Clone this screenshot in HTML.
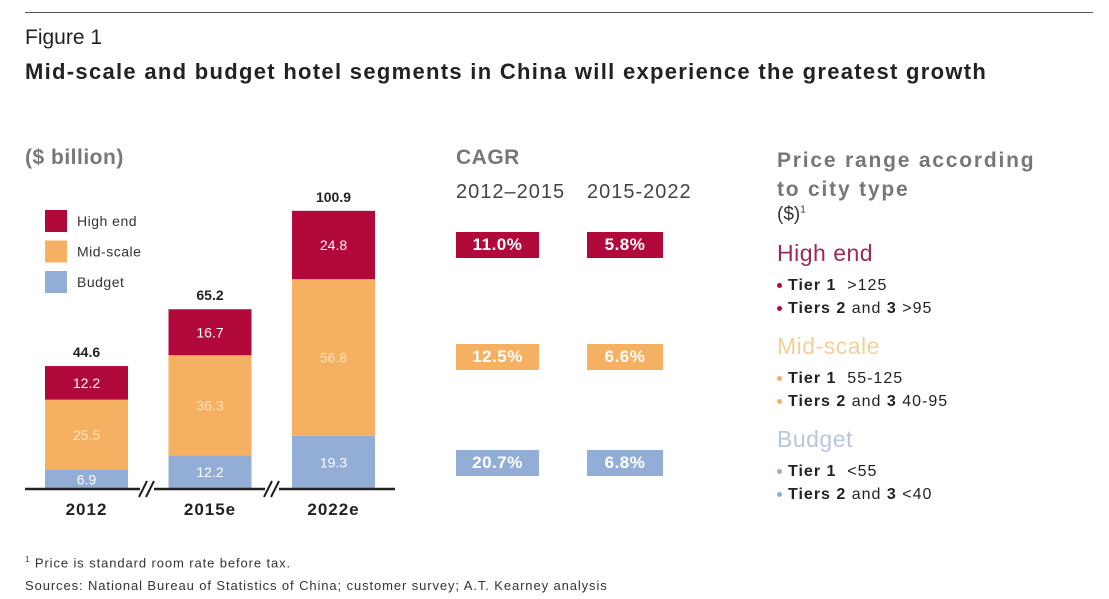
<!DOCTYPE html>
<html><head><meta charset="utf-8">
<style>
body{margin:0;width:1109px;height:599px;background:#fff;font-family:"Liberation Sans",sans-serif;position:relative;overflow:hidden;color:#222}
.a{position:absolute;white-space:nowrap}
.box{position:absolute;color:#fff;font-weight:bold;font-size:17px;text-align:center;line-height:26px;letter-spacing:0.5px}
.li{position:absolute;font-size:16px;color:#222;letter-spacing:1px}
.li b{font-weight:bold}
.dot{display:inline-block;width:5px;height:5px;border-radius:50%;margin-right:6px;vertical-align:middle}
</style></head><body>
<div class="a" style="left:25px;top:12px;width:1068px;height:1px;background:#555"></div>
<div class="a" style="left:25px;top:26px;font-size:21px;color:#222">Figure 1</div>
<div class="a" style="left:25px;top:59px;font-size:22px;letter-spacing:1.3px;font-weight:bold;color:#222">Mid-scale and budget hotel segments in China will experience the greatest growth</div>
<div class="a" style="left:25px;top:146px;font-size:21px;font-weight:bold;color:#777;letter-spacing:0.5px">($ billion)</div>

<svg id="chart" class="a" style="left:0;top:0" width="420" height="530"></svg>

<div class="a" style="left:456px;top:146px;font-size:21px;font-weight:bold;color:#777;letter-spacing:0.5px">CAGR</div>
<div class="a" style="left:456px;top:181px;font-size:20px;color:#444;letter-spacing:1px">2012–2015</div>
<div class="a" style="left:587px;top:181px;font-size:20px;color:#444;letter-spacing:1px">2015-2022</div>
<div class="box" style="left:456px;top:232px;width:83px;background:#b10a3a">11.0%</div>
<div class="box" style="left:587px;top:232px;width:76px;background:#b10a3a">5.8%</div>
<div class="box" style="left:456px;top:344px;width:83px;background:#f6b062">12.5%</div>
<div class="box" style="left:587px;top:344px;width:76px;background:#f6b062">6.6%</div>
<div class="box" style="left:456px;top:450px;width:83px;background:#93aed6">20.7%</div>
<div class="box" style="left:587px;top:450px;width:76px;background:#93aed6">6.8%</div>

<div class="a" style="left:777px;top:146px;font-size:21px;font-weight:bold;color:#777;line-height:29px;letter-spacing:1.8px">Price range according<br>to city type</div>
<div class="a" style="left:777px;top:204px;font-size:19px;color:#333">($)<sup style="font-size:10px">1</sup></div>
<div class="a" style="left:777px;top:240px;font-size:23px;color:#9b2a5a;letter-spacing:0.5px">High end</div>
<div class="li" style="left:777px;top:277px"><span class="dot" style="background:#b10a3a"></span><b>Tier 1</b> &nbsp;&gt;125</div>
<div class="li" style="left:777px;top:300px"><span class="dot" style="background:#b10a3a"></span><b>Tiers 2</b> and <b>3</b> &gt;95</div>
<div class="a" style="left:777px;top:333px;font-size:23px;color:#f3cf9a;letter-spacing:0.5px">Mid-scale</div>
<div class="li" style="left:777px;top:370px"><span class="dot" style="background:#f6b062"></span><b>Tier 1</b> &nbsp;55-125</div>
<div class="li" style="left:777px;top:393px"><span class="dot" style="background:#f6b062"></span><b>Tiers 2</b> and <b>3</b> 40-95</div>
<div class="a" style="left:777px;top:426px;font-size:23px;color:#b8c6db;letter-spacing:0.5px">Budget</div>
<div class="li" style="left:777px;top:463px"><span class="dot" style="background:#93aed6"></span><b>Tier 1</b> &nbsp;&lt;55</div>
<div class="li" style="left:777px;top:486px"><span class="dot" style="background:#93aed6"></span><b>Tiers 2</b> and <b>3</b> &lt;40</div>

<div class="a" style="left:25px;top:555px;font-size:13px;color:#333;letter-spacing:0.9px"><sup style="font-size:8px">1</sup> Price is standard room rate before tax.</div>
<div class="a" style="left:25px;top:578px;font-size:13px;color:#333;letter-spacing:0.9px">Sources: National Bureau of Statistics of China; customer survey; A.T. Kearney analysis</div>

<script>
const categories=["2012","2015e","2022e"];
const budget=[6.9,12.2,19.3];
const midscale=[25.5,36.3,56.8];
const highend=[12.2,16.7,24.8];
const totals=["44.6","65.2","100.9"];
const seriesNames=["Budget","Mid-scale","High end"];
const colors=["#93aed6","#f6b062","#b10a3a"];
const textColors=["#fff","#fde3c2","#fff"];
const svg=document.getElementById('chart');
const NS="http://www.w3.org/2000/svg";
const base=489, k=2.757, barW=83;
function y(v){return base-v*k;}
function x(i){return 45+i*123.5;}
function mk(t,a){const e=document.createElementNS(NS,t);for(const n in a)e.setAttribute(n,a[n]);svg.appendChild(e);return e;}
const series=[budget,midscale,highend];
categories.forEach((c,i)=>{
  let acc=0;
  series.forEach((s,j)=>{
    const r=mk('rect',{x:x(i),y:y(acc+s[i]),width:barW,height:s[i]*k,fill:colors[j]});
    
    
    const t=mk('text',{x:x(i)+barW/2,y:y(acc+s[i]/2)+5,'text-anchor':'middle','font-size':14,fill:textColors[j],'font-family':'Liberation Sans'});
    t.textContent=s[i];
    
    
    acc+=s[i];
  });
  const tt=mk('text',{x:x(i)+barW/2,y:y(acc)-9,'text-anchor':'middle','font-size':14,'font-weight':'bold',fill:'#222','font-family':'Liberation Sans'});
  tt.textContent=totals[i];
  
  
  const xl=mk('text',{x:x(i)+barW/2,y:515,'text-anchor':'middle','font-size':17,'font-weight':'bold',fill:'#222','font-family':'Liberation Sans','letter-spacing':1});
  xl.textContent=c;
  
  
});
const ax=mk('line',{x1:25,y1:base,x2:395,y2:base,stroke:'#222','stroke-width':2.5});


[146,271].forEach(sx=>{
  mk('rect',{x:sx-6,y:base-3,width:14,height:6,fill:'#fff'});
  [-3,4].forEach(d=>{const l=mk('line',{x1:sx+d-4,y1:base+8,x2:sx+d+4,y2:base-8,stroke:'#222','stroke-width':2});
  
  });
});
const legend=[["High end","#b10a3a"],["Mid-scale","#f6b062"],["Budget","#93aed6"]];
legend.forEach((l,i)=>{
  const r=mk('rect',{x:45,y:210+i*30.5,width:22,height:22,fill:l[1]});
  
  
  const t=mk('text',{x:77,y:226+i*30.5,'font-size':14,fill:'#333','font-family':'Liberation Sans','letter-spacing':0.5});
  t.textContent=l[0];
  
  
});
</script>
</body></html>
